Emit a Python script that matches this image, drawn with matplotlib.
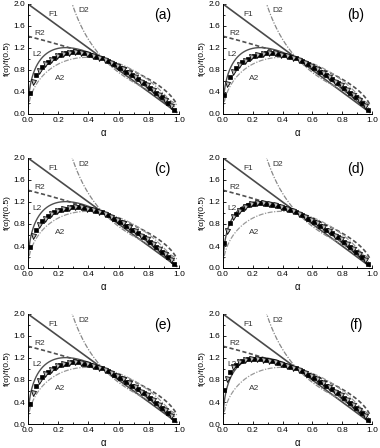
import numpy as np
import matplotlib
matplotlib.use("Agg")
import matplotlib.pyplot as plt
from matplotlib.ticker import MultipleLocator

plt.rcParams['font.family'] = ['Liberation Sans', 'DejaVu Sans']

panel_labels = ["(a)", "(b)", "(c)", "(d)", "(e)", "(f)"]

# experimental alpha grid
alpha_exp = [0.01, 0.03, 0.05, 0.07, 0.09, 0.11, 0.13, 0.15, 0.17, 0.19,
             0.21, 0.23, 0.25, 0.27, 0.29, 0.31, 0.33, 0.35, 0.37, 0.39,
             0.41, 0.43, 0.45, 0.47, 0.49, 0.51, 0.53, 0.55, 0.57, 0.59,
             0.61, 0.63, 0.65, 0.67, 0.69, 0.71, 0.73, 0.75, 0.77, 0.79,
             0.81, 0.83, 0.85, 0.87, 0.89, 0.91, 0.93, 0.95, 0.97]

tail = [0.99, 0.96, 0.93, 0.90, 0.87, 0.84, 0.81, 0.77, 0.74, 0.70,
        0.67, 0.63, 0.59, 0.56, 0.52, 0.48, 0.44, 0.39, 0.35, 0.30,
        0.25, 0.20, 0.14, 0.08]

exp_a = [0.38, 0.58, 0.70, 0.79, 0.86, 0.91, 0.95, 0.99, 1.02, 1.05,
         1.07, 1.09, 1.10, 1.11, 1.12, 1.12, 1.12, 1.11, 1.10, 1.09,
         1.08, 1.06, 1.04, 1.02, 1.01] + tail
exp_b = [0.35, 0.55, 0.68, 0.77, 0.84, 0.89, 0.94, 0.97, 1.00, 1.03,
         1.05, 1.07, 1.08, 1.09, 1.10, 1.10, 1.10, 1.10, 1.09, 1.08,
         1.07, 1.05, 1.04, 1.02, 1.01] + tail
exp_c = [0.38, 0.58, 0.70, 0.78, 0.85, 0.90, 0.94, 0.98, 1.01, 1.03,
         1.05, 1.07, 1.08, 1.09, 1.10, 1.10, 1.10, 1.10, 1.09, 1.08,
         1.07, 1.05, 1.04, 1.02, 1.01] + tail
exp_d = [0.45, 0.68, 0.82, 0.92, 0.99, 1.04, 1.08, 1.11, 1.14, 1.16,
         1.17, 1.18, 1.18, 1.18, 1.17, 1.16, 1.15, 1.14, 1.12, 1.11,
         1.09, 1.07, 1.05, 1.03, 1.01] + tail
exp_e = [0.36, 0.57, 0.69, 0.79, 0.86, 0.91, 0.95, 0.99, 1.02, 1.05,
         1.07, 1.09, 1.10, 1.11, 1.12, 1.12, 1.12, 1.11, 1.10, 1.09,
         1.08, 1.06, 1.04, 1.02, 1.01] + tail
exp_f = [0.62, 0.82, 0.95, 1.03, 1.08, 1.12, 1.15, 1.17, 1.18, 1.19,
         1.19, 1.19, 1.18, 1.17, 1.16, 1.15, 1.14, 1.13, 1.11, 1.10,
         1.08, 1.06, 1.04, 1.02, 1.01] + tail
exp_sets = [exp_a, exp_b, exp_c, exp_d, exp_e, exp_f]

# theoretical kinetic models f(alpha)
def f_F1(a): return 1 - a
def f_R2(a): return 2 * (1 - a) ** 0.5
def f_D2(a): return 1 / (-np.log(1 - a))
def f_A2(a): return 2 * (1 - a) * (-np.log(1 - a)) ** 0.5
def f_L2(a): return 2 * (a ** 0.5 - a)

a_grid = np.linspace(0.0005, 0.985, 600)

def master(f, a):
    return f(a) / f(0.5)

fig = plt.figure(figsize=(3.8, 4.48), dpi=100)
lefts = [28 / 380, 223 / 380]
widths = [151 / 380, 149 / 380]
bottoms = [1 - 114 / 448, 1 - 268 / 448, 1 - 424 / 448]
height = 110 / 448

for i, lab in enumerate(panel_labels):
    r, c = divmod(i, 2)
    ax = fig.add_axes([lefts[c], bottoms[r], widths[c], height])
    # F1
    ax.plot(a_grid, master(f_F1, a_grid), color='#4a4a4a', lw=1.2, ls='-')
    # R2
    ax.plot(a_grid, master(f_R2, a_grid), color='#505050', lw=1.2, ls=(0, (2.5, 1.5)))
    # D2
    ad = a_grid[a_grid > 0.25]
    ax.plot(ad, master(f_D2, ad), color='#888888', lw=0.9, ls=(0, (4, 1.2, 1, 1.2)))
    # A2
    ax.plot(a_grid, master(f_A2, a_grid), color='#999999', lw=0.9, ls=(0, (4, 1.2, 1, 1.2)))
    # L2
    ax.plot(a_grid, master(f_L2, a_grid), color='#505050', lw=1.0, ls='-')
    # experimental data
    ae = np.array(alpha_exp)
    ye = np.array(exp_sets[i])
    ax.plot(ae[::2], ye[::2], ls='none', marker='s', ms=2.8, mfc='black', mec='black', mew=0.5)
    ax.plot(ae[1::2], ye[1::2], ls='none', marker='v', ms=3.6, mfc='#bbbbbb', mec='black', mew=0.6)

    ax.set_xlim(0, 1.0)
    ax.set_ylim(0, 2.0)
    ax.xaxis.set_major_locator(MultipleLocator(0.2))
    ax.xaxis.set_minor_locator(MultipleLocator(0.1))
    ax.yaxis.set_major_locator(MultipleLocator(0.4))
    ax.yaxis.set_minor_locator(MultipleLocator(0.2))
    ax.tick_params(which='both', direction='in', labelsize=6, width=0.6, pad=2)
    ax.tick_params(which='major', length=2.5)
    ax.tick_params(which='minor', length=1.5)
    for s in ['top', 'right']:
        ax.spines[s].set_visible(False)
    for s in ['left', 'bottom']:
        ax.spines[s].set_linewidth(0.7)
    ax.set_xlabel('α', fontsize=7, labelpad=3)
    ax.set_ylabel('f(α)/f(0.5)', fontsize=6, labelpad=2)

    ax.text(0.17, 1.80, 'F1', fontsize=6, ha='center', va='center', color='#333333')
    ax.text(0.37, 1.89, 'D2', fontsize=6, ha='center', va='center', color='#333333')
    ax.text(0.08, 1.47, 'R2', fontsize=6, ha='center', va='center', color='#333333')
    ax.text(0.06, 1.09, 'L2', fontsize=6, ha='center', va='center', color='#333333')
    ax.text(0.21, 0.64, 'A2', fontsize=6, ha='center', va='center', color='#333333')
    ax.text(0.89, 1.80, lab, fontsize=10, ha='center', va='center', color='black')

fig.savefig('out.png', dpi=100)
